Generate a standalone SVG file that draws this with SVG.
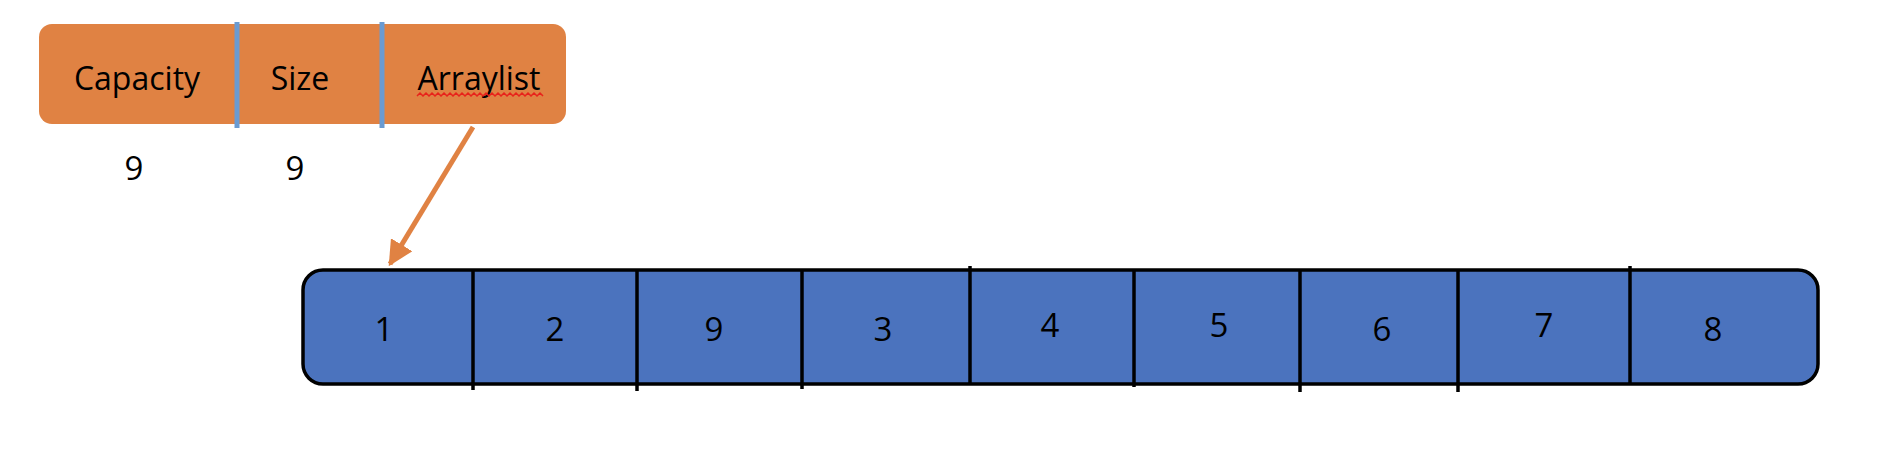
<svg xmlns="http://www.w3.org/2000/svg" width="1896" height="468" viewBox="0 0 1896 468">
<style>
.t{font-family:"Open Sans","Noto Sans","Liberation Sans",sans-serif;font-size:32px;fill:#000;text-anchor:middle}
.n{font-size:33px}
.sep{stroke:#6A9BD2;stroke-width:5}
.cell{stroke:#000;stroke-width:3.5}
</style>
<defs>
<marker id="ah" viewBox="0 0 10 10" refX="9" refY="5" markerWidth="5" markerHeight="5" orient="auto" markerUnits="strokeWidth">
<path d="M0,0 L10,5 L0,10 Z" fill="#E08243"/>
</marker>
</defs>
<rect width="1896" height="468" fill="#fff"/>
<g id="header">
<rect x="39" y="24" width="527" height="100" rx="13" fill="#E08243"/>
<line class="sep" x1="237" y1="22" x2="237" y2="128"/>
<line class="sep" x1="382" y1="22" x2="382" y2="128"/>
<text class="t" x="137" y="90">Capacity</text>
<text class="t" x="300" y="90">Size</text>
<text class="t" x="479" y="90">Arraylist</text>
<polyline points="417,96 420,93 423,96 426,93 429,96 432,93 435,96 438,93 441,96 444,93 447,96 450,93 453,96 456,93 459,96 462,93 465,96 468,93 471,96 474,93 477,96 480,93 483,96 486,93 489,96 492,93 495,96 498,93 501,96 504,93 507,96 510,93 513,96 516,93 519,96 522,93 525,96 528,93 531,96 534,93 537,96 540,93 543,96" fill="none" stroke="#E8221B" stroke-width="1.5"/>
</g>
<g id="values">
<text class="t n" x="134" y="180">9</text>
<text class="t n" x="295" y="180">9</text>
</g>
<g id="array">
<rect x="303" y="270" width="1515" height="114" rx="20" fill="#4B73BE" stroke="#000" stroke-width="3.5"/>
<line class="cell" x1="473" y1="270" x2="473" y2="390"/>
<line class="cell" x1="637" y1="270" x2="637" y2="391"/>
<line class="cell" x1="802" y1="270" x2="802" y2="389"/>
<line class="cell" x1="970" y1="266" x2="970" y2="384"/>
<line class="cell" x1="1134" y1="270" x2="1134" y2="387"/>
<line class="cell" x1="1300" y1="270" x2="1300" y2="392"/>
<line class="cell" x1="1458" y1="270" x2="1458" y2="392"/>
<line class="cell" x1="1630" y1="266" x2="1630" y2="384"/>
<text class="t n" x="384" y="341">1</text>
<text class="t n" x="555" y="341">2</text>
<text class="t n" x="714" y="341">9</text>
<text class="t n" x="883" y="341">3</text>
<text class="t n" x="1050" y="337">4</text>
<text class="t n" x="1219" y="337">5</text>
<text class="t n" x="1382" y="341">6</text>
<text class="t n" x="1544" y="337">7</text>
<text class="t n" x="1713" y="341">8</text>
</g>
<g id="connectors">
<line x1="473" y1="127" x2="390" y2="264" stroke="#E08243" stroke-width="5" marker-end="url(#ah)"/>
</g>
</svg>
